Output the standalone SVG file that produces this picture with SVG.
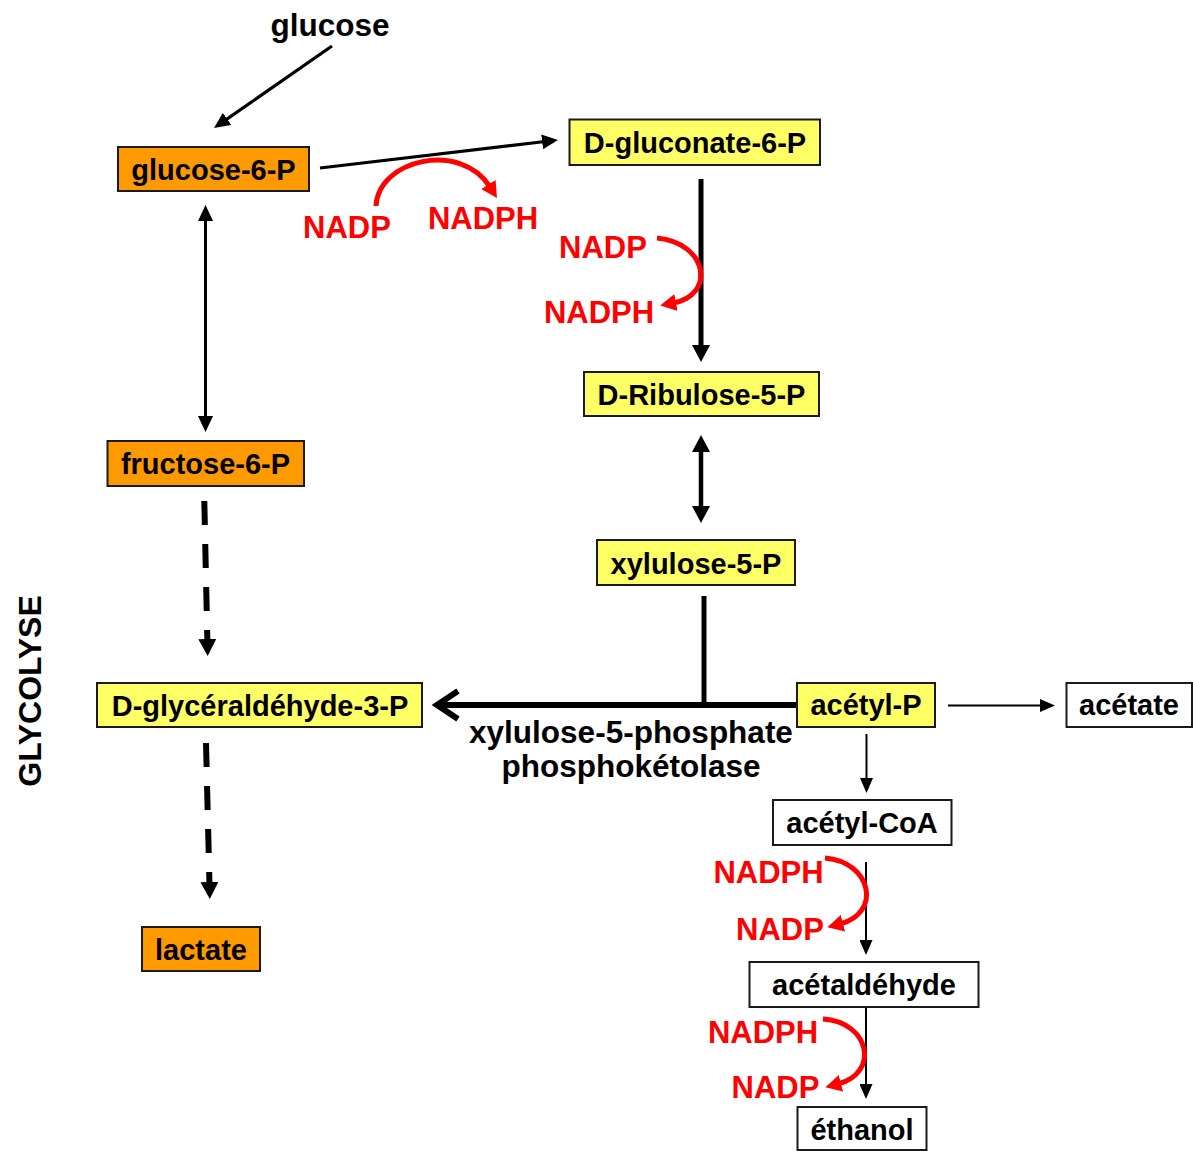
<svg xmlns="http://www.w3.org/2000/svg" width="1193" height="1151" viewBox="0 0 1193 1151">
<defs>
<style>
text{font-family:"Liberation Sans",Arial,sans-serif;font-weight:bold;text-anchor:middle;fill:#000}
.lbl{font-size:29px}
.big{font-size:31.5px}
.red{font-size:31px;fill:#FF0000}
.orange{fill:#FF9900;stroke:#1a1a1a;stroke-width:2}
.yellow{fill:#FFFF66;stroke:#1a1a1a;stroke-width:2}
.white{fill:#FFFFFF;stroke:#1a1a1a;stroke-width:2}
.ln{fill:none;stroke:#000}
.rc{fill:none;stroke:#FF0000;stroke-width:5}
</style>
<marker id="hBig" markerUnits="userSpaceOnUse" markerWidth="18" markerHeight="18" refX="3" refY="9" orient="auto"><path d="M0,0 L17,9 L0,18 Z" fill="#000"/></marker>
<marker id="hBigS" markerUnits="userSpaceOnUse" markerWidth="18" markerHeight="18" refX="14" refY="9" orient="auto"><path d="M17,0 L0,9 L17,18 Z" fill="#000"/></marker>
<marker id="hMed" markerUnits="userSpaceOnUse" markerWidth="16" markerHeight="15" refX="3" refY="7.5" orient="auto"><path d="M0,0 L16,7.5 L0,15 Z" fill="#000"/></marker>
<marker id="hMedS" markerUnits="userSpaceOnUse" markerWidth="16" markerHeight="15" refX="13" refY="7.5" orient="auto"><path d="M16,0 L0,7.5 L16,15 Z" fill="#000"/></marker>
<marker id="hSmall" markerUnits="userSpaceOnUse" markerWidth="15" markerHeight="13" refX="2" refY="6.5" orient="auto"><path d="M0,0 L15,6.5 L0,13 Z" fill="#000"/></marker>
<marker id="hRed" markerUnits="userSpaceOnUse" markerWidth="16" markerHeight="17" refX="3" refY="8.5" orient="auto"><path d="M0,0 L16,8.5 L0,17 Z" fill="#FF0000"/></marker>
</defs>
<rect width="1193" height="1151" fill="#FFFFFF"/>

<g id="connectors">
<line class="ln" x1="332" y1="46" x2="224.7" y2="120.6" stroke-width="3.2" marker-end="url(#hMed)"/>
<line class="ln" x1="320" y1="168" x2="545.1" y2="141.5" stroke-width="3.2" marker-end="url(#hMed)"/>
<line class="ln" x1="205.5" y1="218" x2="205.5" y2="419" stroke-width="3" marker-start="url(#hMedS)" marker-end="url(#hMed)"/>
<line class="ln" x1="701" y1="179" x2="701" y2="348" stroke-width="5" marker-end="url(#hBig)"/>
<line class="ln" x1="701" y1="449" x2="701" y2="509" stroke-width="4.5" marker-start="url(#hBigS)" marker-end="url(#hBig)"/>
<line class="ln" x1="704" y1="596" x2="704" y2="705" stroke-width="5"/>
<line class="ln" x1="797" y1="705" x2="440" y2="705" stroke-width="6"/>
<polyline class="ln" points="458,691 437,705 458,719" stroke-width="6"/>
<line class="ln" x1="204.3" y1="501" x2="207.4" y2="642" stroke-width="6" stroke-dasharray="24 19" marker-end="url(#hBig)"/>
<line class="ln" x1="206" y1="743" x2="209.5" y2="885" stroke-width="6" stroke-dasharray="24 19" marker-end="url(#hBig)"/>
<line class="ln" x1="948" y1="705.5" x2="1042" y2="705.5" stroke-width="2" marker-end="url(#hSmall)"/>
<line class="ln" x1="866.5" y1="734" x2="866.5" y2="780" stroke-width="2" marker-end="url(#hSmall)"/>
<line class="ln" x1="866" y1="862" x2="866" y2="942" stroke-width="2" marker-end="url(#hSmall)"/>
<line class="ln" x1="866" y1="1007" x2="866" y2="1086" stroke-width="2" marker-end="url(#hSmall)"/>
<path class="rc" d="M376,206 C378,160 460,140 490,187" marker-end="url(#hRed)"/>
<path class="rc" d="M657,238 C708,243 716,295 673,303" marker-end="url(#hRed)"/>
<path class="rc" d="M825,858 C872,862 882,913 840,924" marker-end="url(#hRed)"/>
<path class="rc" d="M823,1019 C870,1022 880,1073 838,1084" marker-end="url(#hRed)"/>
</g>

<g id="glucose"><text class="big" x="330" y="36">glucose</text></g>
<g id="glucose-6-P"><rect class="orange" x="118" y="147" width="191" height="44"/><text class="lbl" x="213.5" y="180">glucose-6-P</text></g>
<g id="D-gluconate-6-P"><rect class="yellow" x="569.5" y="119.5" width="250.5" height="45.5"/><text class="lbl" x="695" y="153">D-gluconate-6-P</text></g>
<g id="D-Ribulose-5-P"><rect class="yellow" x="584" y="372" width="235" height="44"/><text class="lbl" x="701.5" y="405">D-Ribulose-5-P</text></g>
<g id="xylulose-5-P"><rect class="yellow" x="597" y="540" width="198" height="45"/><text class="lbl" x="696" y="574">xylulose-5-P</text></g>
<g id="fructose-6-P"><rect class="orange" x="107.5" y="441" width="196.5" height="45"/><text class="lbl" x="205.5" y="474">fructose-6-P</text></g>
<g id="D-glyceraldehyde-3-P"><rect class="yellow" x="97" y="683" width="325" height="44"/><text class="lbl" x="260" y="716">D-glycéraldéhyde-3-P</text></g>
<g id="lactate"><rect class="orange" x="142" y="927" width="118" height="44"/><text class="lbl" x="201" y="960">lactate</text></g>
<g id="acetyl-P"><rect class="yellow" x="797" y="683" width="138" height="44"/><text class="lbl" x="866" y="715">acétyl-P</text></g>
<g id="acetate"><rect class="white" x="1066.5" y="683" width="125.5" height="44"/><text class="lbl" x="1129" y="715">acétate</text></g>
<g id="acetyl-CoA"><rect class="white" x="773" y="800" width="178.5" height="45"/><text class="lbl" x="862" y="833">acétyl-CoA</text></g>
<g id="acetaldehyde"><rect class="white" x="749.5" y="962" width="229" height="45"/><text class="lbl" x="864" y="995">acétaldéhyde</text></g>
<g id="ethanol"><rect class="white" x="797.5" y="1107" width="129" height="43"/><text class="lbl" x="862" y="1140">éthanol</text></g>
<g id="enzyme"><text class="big" x="631" y="743">xylulose-5-phosphate</text><text class="big" x="631" y="777">phosphokétolase</text></g>
<g id="glycolyse"><text font-size="32" transform="translate(40.5,691) rotate(-90)">GLYCOLYSE</text></g>
<g id="cofactors">
<text class="red" x="347" y="238">NADP</text>
<text class="red" x="483" y="229">NADPH</text>
<text class="red" x="603" y="258">NADP</text>
<text class="red" x="599" y="323">NADPH</text>
<text class="red" x="768.5" y="883">NADPH</text>
<text class="red" x="780" y="940">NADP</text>
<text class="red" x="763" y="1043">NADPH</text>
<text class="red" x="775.5" y="1098">NADP</text>
</g>
</svg>
